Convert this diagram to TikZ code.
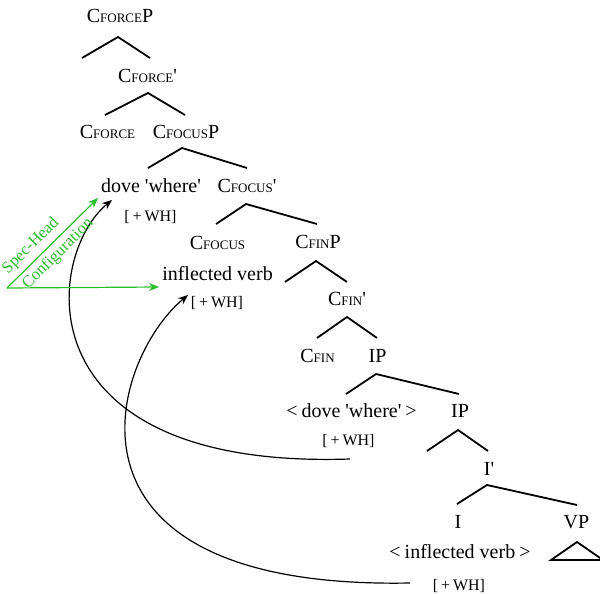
\documentclass[tikz,border=0pt]{standalone}
\usepackage{fontspec}
\setmainfont{Liberation Serif}
\usetikzlibrary{arrows.meta,calc}
\definecolor{shgreen}{RGB}{40,190,40}

% small capitals used for the category subscripts
\newcommand{\smc}[1]{{\fontsize{13}{13}\selectfont #1}}
\newcommand{\tq}{\textquotesingle}
\newcommand{\whf}{[\hspace{0.18em}+\hspace{0.18em}WH]}

\tikzset{
  lbl/.style={anchor=base, inner sep=0pt, font=\fontsize{20}{24}\selectfont},
  feat/.style={anchor=base, inner sep=0pt, font=\fontsize{16}{18}\selectfont},
  branch/.style={line width=1.8pt},
  movement/.style={line width=1.2pt, -{Stealth[length=10pt,width=8pt]}},
  spechead/.style={draw=shgreen, line width=1.2pt, -{Stealth[length=10pt,width=8pt]}, shgreen},
  gtext/.style={text=shgreen, font=\fontsize{16.5}{18}\selectfont, inner sep=0pt, rotate=45},
}

\begin{document}
\begin{tikzpicture}[x=1pt,y=1pt]
\useasboundingbox (0,0) rectangle (600,-594);

% tree labels
\node[lbl] (fp)      at (120,-23)   {C\smc{FORCE}P};
\node[lbl] (fbar)    at (147.5,-82) {C\smc{FORCE}\tq};
\node[lbl] (fhead)   at (107.5,-138){C\smc{FORCE}};
\node[lbl] (focp)    at (186,-138)  {C\smc{FOCUS}P};
\node[lbl] (dove)    at (151,-192)  {dove \tq where\tq};
\node[lbl] (focbar)  at (247,-192)  {C\smc{FOCUS}\tq};
\node[feat] (wh1)    at (150.5,-221){\whf};
\node[lbl] (fochead) at (217.5,-249){C\smc{FOCUS}};
\node[lbl] (finp)    at (318,-248)  {C\smc{FIN}P};
\node[lbl] (infl)    at (217.5,-280){inflected verb};
\node[feat] (wh2)    at (217,-307)  {\whf};
\node[lbl] (finbar)  at (347,-305)  {C\smc{FIN}\tq};
\node[lbl] (finhead) at (317.5,-362){C\smc{FIN}};
\node[lbl] (ip)      at (377.5,-362){IP};
\node[lbl] (dovet)   at (351.5,-417){<\hspace{0.2em}dove \tq where\tq\hspace{0.2em}>};
\node[lbl] (ip2)     at (460,-417)  {IP};
\node[feat] (wh3)    at (348.5,-445){\whf};
\node[lbl] (ibar)    at (489,-475)  {I\tq};
\node[lbl] (ihead)   at (458,-528)  {I};
\node[lbl] (vp)      at (576.5,-528){VP};
\node[lbl] (inflt)   at (460,-558)  {<\hspace{0.2em}inflected verb\hspace{0.2em}>};
\node[feat] (wh4)    at (459,-590)  {\whf};

% branches
\draw[branch] ($(fp.base)+(-38,-35)$) -- ($(fp.base)+(-2,-14)$) -- ($(fbar.base)+(2.5,24)$);
\draw[branch] ($(fhead.base)+(-2.5,23)$) -- ($(fbar.base)+(0.5,-11)$) -- ($(focp.base)+(-1,23)$);
\draw[branch] ($(dove.base)+(-3,24)$) -- ($(focp.base)+(-4,-10)$) -- ($(focbar.base)+(0,24)$);
\draw[branch] ($(fochead.base)+(-1.5,25)$) -- ($(focbar.base)+(-1,-12)$) -- ($(finp.base)+(-1,24)$);
\draw[branch] ($(finp.base)+(-33,-34)$) -- ($(finp.base)+(-2,-13)$) -- ($(finbar.base)+(0,23)$);
\draw[branch] ($(finhead.base)+(-0.5,24)$) -- ($(finbar.base)+(0,-12)$) -- ($(ip.base)+(-0.5,24)$);
\draw[branch] ($(dovet.base)+(-5.5,23)$) -- ($(ip.base)+(-1.5,-12)$) -- ($(ip2.base)+(-1,23)$);
\draw[branch] ($(ip2.base)+(-33,-34)$) -- ($(ip2.base)+(-2,-13)$) -- ($(ibar.base)+(-1,24)$);
\draw[branch] ($(ihead.base)+(-1,24)$) -- ($(ibar.base)+(-2,-10)$) -- ($(vp.base)+(0.5,23)$);
% VP triangle
\draw[branch] ($(vp.base)+(-25.5,-32)$) -- ($(vp.base)+(0.5,-14)$) -- ($(vp.base)+(26.5,-32)$) -- cycle;

% movement arrows
\draw[movement] ($(wh3.base)+(1.5,-14)$) .. controls +(-330,-11) and +(-67,-55) .. ($(dove.base)+(-39,-8)$);
\draw[movement] ($(wh4.base)+(-49,7)$) .. controls +(-370,-7) and +(-78,-65) .. ($(infl.base)+(-29.5,-15)$);

% spec-head configuration
\coordinate (sh) at (7,-288);
\draw[spechead] (sh) -- ($(dove.base)+(-53,-6)$);
\draw[spechead] (sh) -- ($(infl.base)+(-58.5,-7)$);
\node[gtext] (shlabel)  at (31,-246)  {Spec-Head};
\node[gtext] (cfglabel) at (58,-254)  {Configuration};
\end{tikzpicture}
\end{document}
